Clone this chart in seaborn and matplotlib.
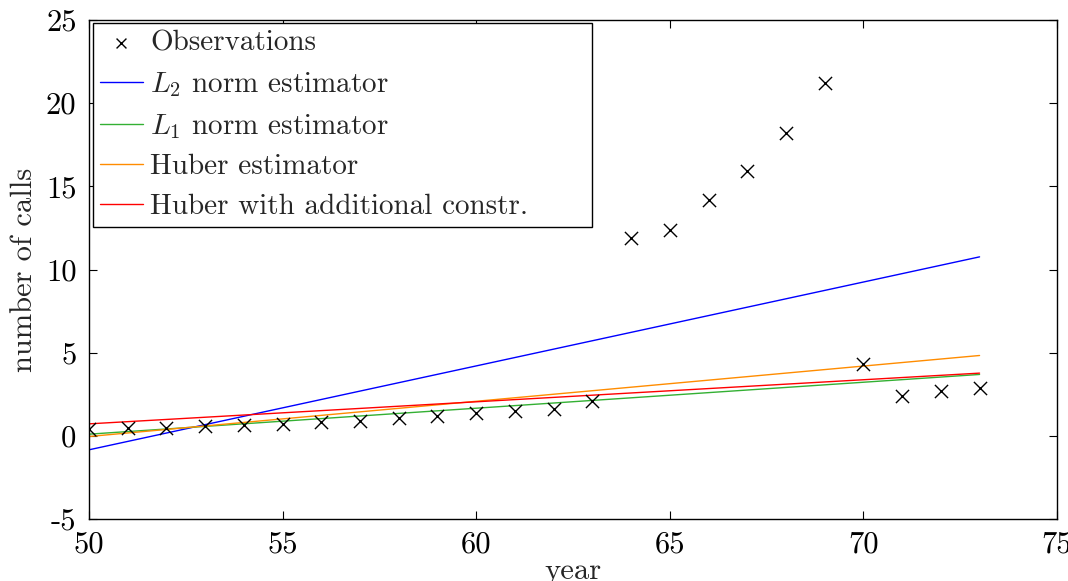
import numpy as np
import pandas as pd
import matplotlib
matplotlib.use("Agg")
import matplotlib.pyplot as plt
import seaborn as sns

# Observations (Belgian phone calls)
years = [50, 51, 52, 53, 54, 55, 56, 57, 58, 59, 60, 61, 62, 63,
         64, 65, 66, 67, 68, 69, 70, 71, 72, 73]
calls = [0.44, 0.47, 0.47, 0.59, 0.66, 0.73, 0.81, 0.88, 1.06, 1.20, 1.35, 1.49, 1.61, 2.12,
         11.90, 12.40, 14.20, 15.90, 18.20, 21.20, 4.30, 2.40, 2.70, 2.90]

# Fitted lines (read at the end points)
fit_years = [50, 73]
l2_fit = [-0.84, 10.76]
l1_fit = [0.10, 3.69]
huber_fit = [-0.04, 4.83]
huber_constr_fit = [0.72, 3.77]

series_names = ["$L_2$ norm estimator", "$L_1$ norm estimator",
                "Huber estimator", "Huber with additional constr."]
series_vals = [l2_fit, l1_fit, huber_fit, huber_constr_fit]
series_colors = ["#0000ff", "#33b033", "#ff8c00", "#ff0000"]

xticks = [50, 55, 60, 65, 70, 75]
yticks = [-5, 0, 5, 10, 15, 20, 25]

sns.set_style("ticks")
plt.rcParams["font.family"] = "serif"
plt.rcParams["font.serif"] = ["cmr10", "DejaVu Serif"]
plt.rcParams["mathtext.fontset"] = "cm"
plt.rcParams["axes.unicode_minus"] = False
plt.rcParams["axes.formatter.use_mathtext"] = True

FS = 22
LFS = 21

fig = plt.figure(figsize=(10.68, 5.81), dpi=100)
ax = fig.add_axes([89 / 1068, 1 - 519 / 581, (1057 - 89) / 1068, (519 - 20) / 581])

obs = pd.DataFrame({"year": years, "calls": calls})
sns.scatterplot(data=obs, x="year", y="calls", marker="x", color="black",
                s=90, linewidth=1.0, ax=ax, label="Observations", zorder=5)

for name, vals, col in zip(series_names, series_vals, series_colors):
    df = pd.DataFrame({"year": fit_years, "val": vals})
    sns.lineplot(data=df, x="year", y="val", color=col, linewidth=1.0, ax=ax, label=name)

ax.set_xlim(50, 75)
ax.set_ylim(-5, 25)
ax.set_xticks(xticks)
ax.set_yticks(yticks)
ax.set_xticklabels([str(v) for v in xticks])
ax.set_yticklabels([str(v) for v in yticks])
ax.tick_params(direction="in", top=True, right=True, length=6, width=0.8,
               labelsize=FS, colors="black")
ax.tick_params(axis="y", pad=9)
ax.tick_params(axis="x", pad=9)
for sp in ax.spines.values():
    sp.set_visible(True)
    sp.set_linewidth(1.0)
    sp.set_color("black")

ax.set_xlabel("year", fontsize=FS, labelpad=-1)
ax.set_ylabel("number of calls", fontsize=FS, labelpad=6)

leg = ax.legend(loc="upper left", bbox_to_anchor=(4 / 968, 0.0, 499 / 968, 496 / 499),
                mode="expand", fontsize=LFS, frameon=True, fancybox=False,
                edgecolor="black", handlelength=1.45, handletextpad=0.25,
                borderpad=0.25, labelspacing=0.45, borderaxespad=0.0,
                markerscale=0.75)
leg.get_frame().set_linewidth(1.0)
leg.get_frame().set_alpha(1)

fig.savefig("out.png", dpi=100)
